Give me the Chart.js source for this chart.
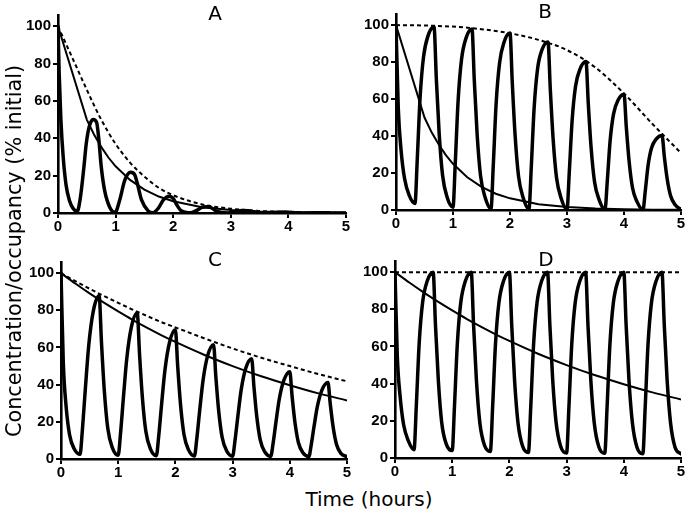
<!DOCTYPE html>
<html><head><meta charset="utf-8">
<script src="https://cdn.jsdelivr.net/npm/chart.js@4.4.1/dist/chart.umd.min.js"></script>
<style>
html,body{margin:0;padding:0;background:#fff;}
#wrap{position:relative;width:691px;height:513px;overflow:hidden;background:#fff;}
canvas{position:absolute;}
.t{position:absolute;font-family:"DejaVu Sans",sans-serif;color:#000;white-space:nowrap;font-size:20px;line-height:20px;transform:translateX(-50%);}
#ylab{position:absolute;font-family:"DejaVu Sans",sans-serif;font-size:20.8px;line-height:24px;width:420px;height:24px;text-align:center;left:-196px;top:239px;transform:rotate(-90deg);white-space:nowrap;color:#000;}
</style></head><body>
<div id="wrap">
<canvas id="cA" width="352" height="240" style="left:0;top:0"></canvas>
<canvas id="cB" width="345" height="240" style="left:345px;top:0"></canvas>
<canvas id="cC" width="352" height="240" style="left:0;top:240px"></canvas>
<canvas id="cD" width="345" height="240" style="left:345px;top:240px"></canvas>
<div class="t" style="left:215px;top:3px">A</div>
<div class="t" style="left:545px;top:1px">B</div>
<div class="t" style="left:215px;top:249px">C</div>
<div class="t" style="left:546px;top:249px">D</div>
<div class="t" style="left:369px;top:489px">Time (hours)</div>
<div id="ylab">Concentration/occupancy (% initial)</div>
</div>
<script>
// ---- tick labels ----
const xTicks = [0, 1, 2, 3, 4, 5];
const yTicks = [0, 20, 40, 60, 80, 100];

// ---- shared time grids (hours) ----
const thickTimes = [
  0, 0.04, 0.09, 0.15, 0.23, 0.333, 0.373, 0.423, 0.483, 0.563,
  0.667, 0.707, 0.757, 0.817, 0.897, 1.0, 1.04, 1.09, 1.15, 1.23,
  1.333, 1.373, 1.423, 1.483, 1.563, 1.667, 1.707, 1.757, 1.817, 1.897,
  2.0, 2.04, 2.09, 2.15, 2.23, 2.333, 2.373, 2.423, 2.483, 2.563,
  2.667, 2.707, 2.757, 2.817, 2.897, 3.0, 3.04, 3.09, 3.15, 3.23,
  3.333, 3.373, 3.423, 3.483, 3.563, 3.667, 3.707, 3.757, 3.817, 3.897,
  4.0, 4.04, 4.09, 4.15, 4.23, 4.333, 4.373, 4.423, 4.483, 4.563,
  4.667, 4.707, 4.757, 4.817, 4.897, 5.0
];
const envTimes = [0, 0.25, 0.5, 0.75, 1, 1.25, 1.5, 1.75, 2, 2.5, 3, 3.5, 4, 4.5, 5];
const fastTimes = [0, 0.5, 0.625, 0.75, 0.875, 1, 1.25, 1.5, 1.75, 2, 2.5, 3, 3.5, 4, 4.5, 5];
const aThickTimes = [0, 0.02, 0.05, 0.09, 0.14, 0.2, 0.26, 0.333, 0.39, 0.45, 0.49, 0.54, 0.61, 0.67, 0.71, 0.75, 0.81, 0.9, 0.99,
  1.07, 1.16, 1.26, 1.33, 1.38, 1.45, 1.57, 1.65, 1.74, 1.83, 1.93, 2.0, 2.06, 2.14, 2.3,
  2.4, 2.5, 2.58, 2.66, 2.75, 2.95, 3.05, 3.2, 3.3, 3.45, 3.6, 3.75, 3.95, 4.15, 4.3, 4.5, 4.6, 4.8, 5.0];

// ---- thin solid lines (concentration) ----
const fastConc = [100, 50, 42, 35.4, 29.7, 25, 17.7, 12.5, 8.8, 6.3, 3.1, 1.6, 0.8, 0.4, 0.2, 0.1];
const slowConc = [100, 94.4, 89.1, 84.1, 79.4, 74.9, 70.7, 66.7, 63, 56.1, 50, 44.5, 39.7, 35.3, 31.5];

// ---- dotted envelopes ----
const aDotted = [100, 83, 66, 50, 37, 27, 19.5, 13.5, 9.5, 4.6, 2.3, 1.1, 0.5, 0.2, 0.1];
const bDotted = [100, 99.9, 99.8, 99.5, 99.2, 98.6, 97.8, 96.8, 95.6, 92, 86.5, 77, 63, 46.5, 30.8];
const cDotted = [100, 95.7, 91.6, 87.7, 84, 80.4, 77, 73.7, 70.8, 65, 59.5, 54.5, 50, 45.7, 41.8];
const dDotted = [100, 100, 100, 100, 100, 100, 100, 100, 100, 100, 100, 100, 100, 100, 100];

// ---- thick oscillating lines (occupancy) ----
const aThick = [100, 75, 50, 30, 15, 6.5, 2.5, 0.8, 8.6, 24.7, 37, 46, 50, 48.5, 39, 25, 12, 3, 0.3,
  6.8, 17.6, 21.8, 20.5, 15.5, 7, 1, 0.2, 2.5, 7, 9, 7.8, 4.5, 1.2, 0.1,
  1.3, 3, 3.4, 2.8, 1, 0.05, 0.5, 1.3, 1.2, 0.3, 0, 0.3, 0.5, 0.1, 0, 0.15, 0.2, 0, 0];
const bThick = [
  100, 55, 32, 17, 8, 3.5, 27.4, 60.9, 82.8, 94.3,
  99.1, 71.4, 41.6, 18.8, 6.9, 1.5, 25.6, 59.3, 81.5, 93.1,
  97.9, 70.5, 41.1, 18.6, 6.9, 0.6, 24.4, 57.7, 79.5, 90.9,
  95.7, 68.9, 40.2, 18.2, 6.7, 0.4, 23, 55, 76.2, 86.8,
  90.9, 65.4, 38.2, 17.3, 6.4, 0.3, 20.4, 48.5, 66.9, 76.3,
  80.3, 57.8, 33.7, 15.3, 5.6, 0.2, 15.8, 37.6, 52, 59.5,
  62.6, 45.1, 26.3, 11.9, 4.4, 0.1, 10.2, 24.2, 33.5, 38.3,
  40.3, 29, 16.9, 7.7, 2.8, 0.3
];
const cThick = [
  100, 52, 28, 13, 5.5, 2.5, 15.3, 36.6, 60.5, 79.3,
  87.8, 63.2, 36.9, 16.7, 6.1, 2, 13.5, 32.6, 54, 70.9,
  78.5, 56.5, 33, 14.9, 5.5, 1.8, 11.9, 28.9, 47.8, 62.7,
  69.5, 50, 29.2, 13.2, 4.9, 1.6, 10.6, 25.6, 42.3, 55.5,
  61.5, 44.3, 25.8, 11.7, 4.3, 1.5, 9.4, 22.5, 37.2, 48.8,
  54, 38.9, 22.7, 10.3, 3.8, 1.4, 8.2, 19.6, 32.4, 42.4,
  47, 33.8, 19.7, 8.9, 3.3, 1.3, 7.3, 17.3, 28.4, 37.2,
  41.2, 29.7, 17.3, 7.8, 2.9, 1.2
];
const dThick = [
  100, 55, 33, 18, 9.5, 4.5, 28.4, 61.8, 83.8, 95.2,
  100, 72, 42, 19, 7.5, 4, 28, 61.6, 83.7, 95.2,
  100, 72, 42, 19, 7, 3.5, 27.6, 61.4, 83.6, 95.2,
  100, 72, 42, 19, 6.5, 3, 27.3, 61.2, 83.5, 95.2,
  100, 72, 42, 19, 6.2, 2.7, 27, 61.1, 83.5, 95.1,
  100, 72, 42, 19, 6, 2.5, 26.9, 61, 83.4, 95.1,
  100, 72, 42, 19, 5.8, 2.3, 26.7, 60.9, 83.4, 95.1,
  100, 72, 42, 19, 5.7, 2.2
];

function pts(times, vals) { return times.map((t, i) => ({ x: t, y: vals[i] })); }

const INK = '#000';
function thin(times, vals, straight) {
  return { data: pts(times, vals), borderColor: INK, borderWidth: 2, pointRadius: 0,
    cubicInterpolationMode: straight ? 'default' : 'monotone', tension: 0, fill: false };
}
function dotted(times, vals) {
  return { data: pts(times, vals), borderColor: INK, borderWidth: 2, borderDash: [4, 3], pointRadius: 0,
    cubicInterpolationMode: 'monotone', fill: false };
}
function thick(times, vals) {
  return { data: pts(times, vals), borderColor: INK, borderWidth: 3.5, pointRadius: 0,
    cubicInterpolationMode: 'monotone', fill: false, borderJoinStyle: 'round', borderCapStyle: 'round' };
}

const tickFont = { family: '"Liberation Sans", Arial, sans-serif', size: 15, weight: 'bold' };

function makePanel(id, yW, pad, datasets) {
  new Chart(document.getElementById(id), {
    type: 'line',
    data: { datasets },
    options: {
      responsive: false, animation: false, devicePixelRatio: 1,
      layout: { padding: { left: 0, top: pad[0], right: pad[1], bottom: pad[2] } },
      plugins: { legend: { display: false }, tooltip: { enabled: false }, title: { display: false } },
      scales: {
        x: {
          type: 'linear', min: 0, max: 5,
          afterBuildTicks: s => { s.ticks = xTicks.map(v => ({ value: v })); },
          afterFit: s => { s.height = 20; },
          grid: { display: true, drawOnChartArea: false, drawTicks: true, tickLength: 5, color: INK, lineWidth: 2 },
          border: { display: true, color: INK, width: 2.6 },
          ticks: { color: INK, font: tickFont, padding: 0, maxRotation: 0, autoSkip: false }
        },
        y: {
          type: 'linear', min: 0, max: 106,
          afterBuildTicks: s => { s.ticks = yTicks.map(v => ({ value: v })); },
          afterFit: s => { s.width = yW; },
          grid: { display: true, drawOnChartArea: false, drawTicks: true, tickLength: 5, color: INK, lineWidth: 2 },
          border: { display: true, color: INK, width: 2.6 },
          ticks: { color: INK, font: tickFont, padding: 2, autoSkip: false }
        }
      }
    }
  });
}

makePanel('cA', 58, [15, 6, 7], [
  thin(fastTimes, fastConc, true), dotted(envTimes, aDotted), thick(aThickTimes, aThick)
]);
makePanel('cB', 51, [14, 9, 10], [
  thin(fastTimes, fastConc, true), dotted(envTimes, bDotted), thick(thickTimes, bThick)
]);
makePanel('cC', 61, [22, 5, 1], [
  thin(envTimes, slowConc, false), dotted(envTimes, cDotted), thick(thickTimes, cThick)
]);
makePanel('cD', 50, [21, 9, 2], [
  thin(envTimes, slowConc, false), dotted(envTimes, dDotted), thick(thickTimes, dThick)
]);
</script>
</body></html>
